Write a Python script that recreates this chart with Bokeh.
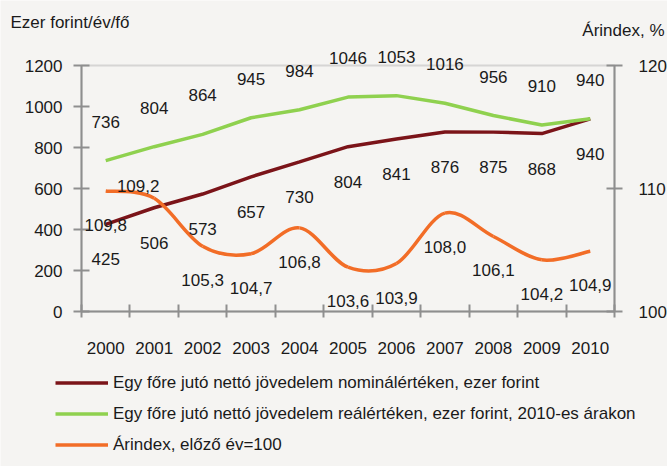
from bokeh.plotting import figure
from bokeh.models import (Range1d, LinearAxis, FixedTicker, ColumnDataSource,
                          LabelSet, Label, Legend, LegendItem, BoxAnnotation)
from bokeh.core.properties import value
from bokeh.embed import file_html
from bokeh.resources import INLINE

# ---- data ----
years = ["2000", "2001", "2002", "2003", "2004", "2005", "2006", "2007", "2008", "2009", "2010"]
nominal = [425, 506, 573, 657, 730, 804, 841, 876, 875, 868, 940]
real = [736, 804, 864, 945, 984, 1046, 1053, 1016, 956, 910, 940]
price_index = [109.8, 109.2, 105.3, 104.7, 106.8, 103.6, 103.9, 108.0, 106.1, 104.2, 104.9]
left_ticks = [0, 200, 400, 600, 800, 1000, 1200]
right_ticks = [100, 110, 120]
series_names = [
    "Egy főre jutó nettó jövedelem nominálértéken, ezer forint",
    "Egy főre jutó nettó jövedelem reálértéken, ezer forint, 2010-es árakon",
    "Árindex, előző év=100",
]
left_title = "Ezer forint/év/fő"
right_title = "Árindex, %"

# ---- style / layout ----
W, H = 667, 466
PL, PR, PT, PB = 81, 614, 65, 311          # plot-area edges in pixels
FONT = "Liberation Sans"
FS = "17px"
FS_TXT = "17px"
BG = "#f5f4f2"
AXIS = "#8f8f8f"
TXT = "#1a1a1a"
RED = "#7b1419"
GREEN = "#8fd14f"
ORANGE = "#f26d27"

n = len(years)
xs = [i + 0.5 for i in range(n)]
ymax = left_ticks[-1]
rmin, rmax = right_ticks[0], right_ticks[-1]

# ranges widened so that the data area sits at the plot-area pixels
sx = (PR - PL) / n
sy = (PB - PT) / ymax
sr = (PB - PT) / (rmax - rmin)
x_range = Range1d(-PL / sx, n + (W - PR) / sx)
y_range = Range1d(-(H - PB) / sy, ymax + PT / sy)
r_range = Range1d(rmin - (H - PB) / sr, rmax + PT / sr)

p = figure(width=W, height=H, output_backend="svg", toolbar_location=None,
           x_range=x_range, y_range=y_range,
           min_border_left=0, min_border_right=0, min_border_top=0, min_border_bottom=0)
p.title.visible = False
p.background_fill_color = BG
p.border_fill_color = BG
p.outline_line_color = None
p.xgrid.visible = False
p.ygrid.visible = False
p.extra_y_ranges = {"right": r_range}

def style_axis(ax, standoff):
    ax.axis_line_color = AXIS
    ax.axis_line_width = 2
    ax.major_tick_line_color = AXIS
    ax.major_tick_line_width = 2
    ax.major_label_standoff = standoff
    ax.major_label_text_font = FONT
    ax.major_label_text_font_size = FS
    ax.major_label_text_color = TXT

# left axis
ya = p.yaxis[0]
ya.ticker = FixedTicker(ticks=left_ticks)
ya.fixed_location = 0
ya.bounds = (0, ymax)
ya.major_tick_in = 8
ya.major_tick_out = 8
ya.minor_tick_line_color = None
style_axis(ya, 11)

# right axis
ra = LinearAxis(y_range_name="right", ticker=FixedTicker(ticks=right_ticks))
ra.fixed_location = n
ra.bounds = (rmin, rmax)
ra.major_tick_in = 8
ra.major_tick_out = 8
ra.minor_tick_line_color = None
style_axis(ra, 16)
p.add_layout(ra, "right")

# x axis: category labels centred, tick marks between categories
xa = p.xaxis[0]
xa.ticker = FixedTicker(ticks=xs, minor_ticks=list(range(n + 1)))
xa.major_label_overrides = {x: y for x, y in zip(xs, years)}
xa.fixed_location = 0
xa.bounds = (0, n)
xa.major_tick_in = 0
xa.major_tick_out = 0
xa.minor_tick_in = 7
xa.minor_tick_out = 6
xa.minor_tick_line_color = AXIS
xa.minor_tick_line_width = 2
style_axis(xa, 24)

# plot-area border
p.add_layout(BoxAnnotation(left=0, right=n, bottom=0, top=ymax, fill_alpha=0,
                           line_color=AXIS, line_width=2))

# lines
r_nom = p.line(xs, nominal, line_color=RED, line_width=3.5)
r_real = p.line(xs, real, line_color=GREEN, line_width=3.5)

# smoothed price-index line (Bezier segments, Catmull-Rom control points)
pts = price_index
x0, y0, x1, y1, cx0, cy0, cx1, cy1 = [], [], [], [], [], [], [], []
for i in range(n - 1):
    xp, yp = xs[max(i - 1, 0)], pts[max(i - 1, 0)]
    xa_, ya_ = xs[i], pts[i]
    xb, yb = xs[i + 1], pts[i + 1]
    xn, yn = xs[min(i + 2, n - 1)], pts[min(i + 2, n - 1)]
    x0.append(xa_); y0.append(ya_); x1.append(xb); y1.append(yb)
    cx0.append(xa_ + (xb - xp) / 6.0); cy0.append(ya_ + (yb - yp) / 6.0)
    cx1.append(xb - (xn - xa_) / 6.0); cy1.append(yb - (yn - ya_) / 6.0)
r_idx = p.bezier(x0=x0, y0=y0, x1=x1, y1=y1, cx0=cx0, cy0=cy0, cx1=cx1, cy1=cy1,
                 line_color=ORANGE, line_width=3.5, y_range_name="right")

# data labels
def add_labels(src, yoff, xoff=0, y_range_name="default"):
    p.add_layout(LabelSet(x="x", y="y", text="t", source=src, y_offset=yoff, x_offset=xoff,
                          text_align="center", text_baseline="middle",
                          text_font=value(FONT), text_font_size=value(FS),
                          text_color=TXT, y_range_name=y_range_name))

add_labels(ColumnDataSource(dict(x=xs, y=real, t=[str(v) for v in real])), 39)
add_labels(ColumnDataSource(dict(x=xs, y=nominal, t=[str(v) for v in nominal])), -35)

idx_text = [f"{v:.1f}".replace(".", ",") for v in price_index]
dx = [0] * n
dy = [-34] * n
dx[1], dy[1] = -16, 12
add_labels(ColumnDataSource(dict(x=xs, y=price_index, t=idx_text, dx=dx, dy=dy)),
           "dy", "dx", "right")

# axis titles (screen units, from the bottom-left corner)
p.add_layout(Label(x=10, y=H - 22, x_units="screen", y_units="screen", text=left_title,
                   text_font=FONT, text_font_size=FS_TXT, text_color=TXT,
                   text_align="left", text_baseline="middle"))
p.add_layout(Label(x=664, y=H - 30, x_units="screen", y_units="screen", text=right_title,
                   text_font=FONT, text_font_size=FS_TXT, text_color=TXT,
                   text_align="right", text_baseline="middle"))

# legend (location = bottom-left corner of the legend box)
legend = Legend(items=[LegendItem(label=series_names[0], renderers=[r_nom]),
                       LegendItem(label=series_names[1], renderers=[r_real]),
                       LegendItem(label=series_names[2], renderers=[r_idx])],
                location=(50, 6), orientation="vertical",
                glyph_width=53, glyph_height=21, label_height=21, spacing=10,
                padding=5, margin=0, label_standoff=5,
                label_text_font=FONT, label_text_font_size=FS_TXT, label_text_color=TXT,
                border_line_alpha=0, background_fill_alpha=0)
p.add_layout(legend)

open("out.html", "w").write(file_html(p, INLINE))
